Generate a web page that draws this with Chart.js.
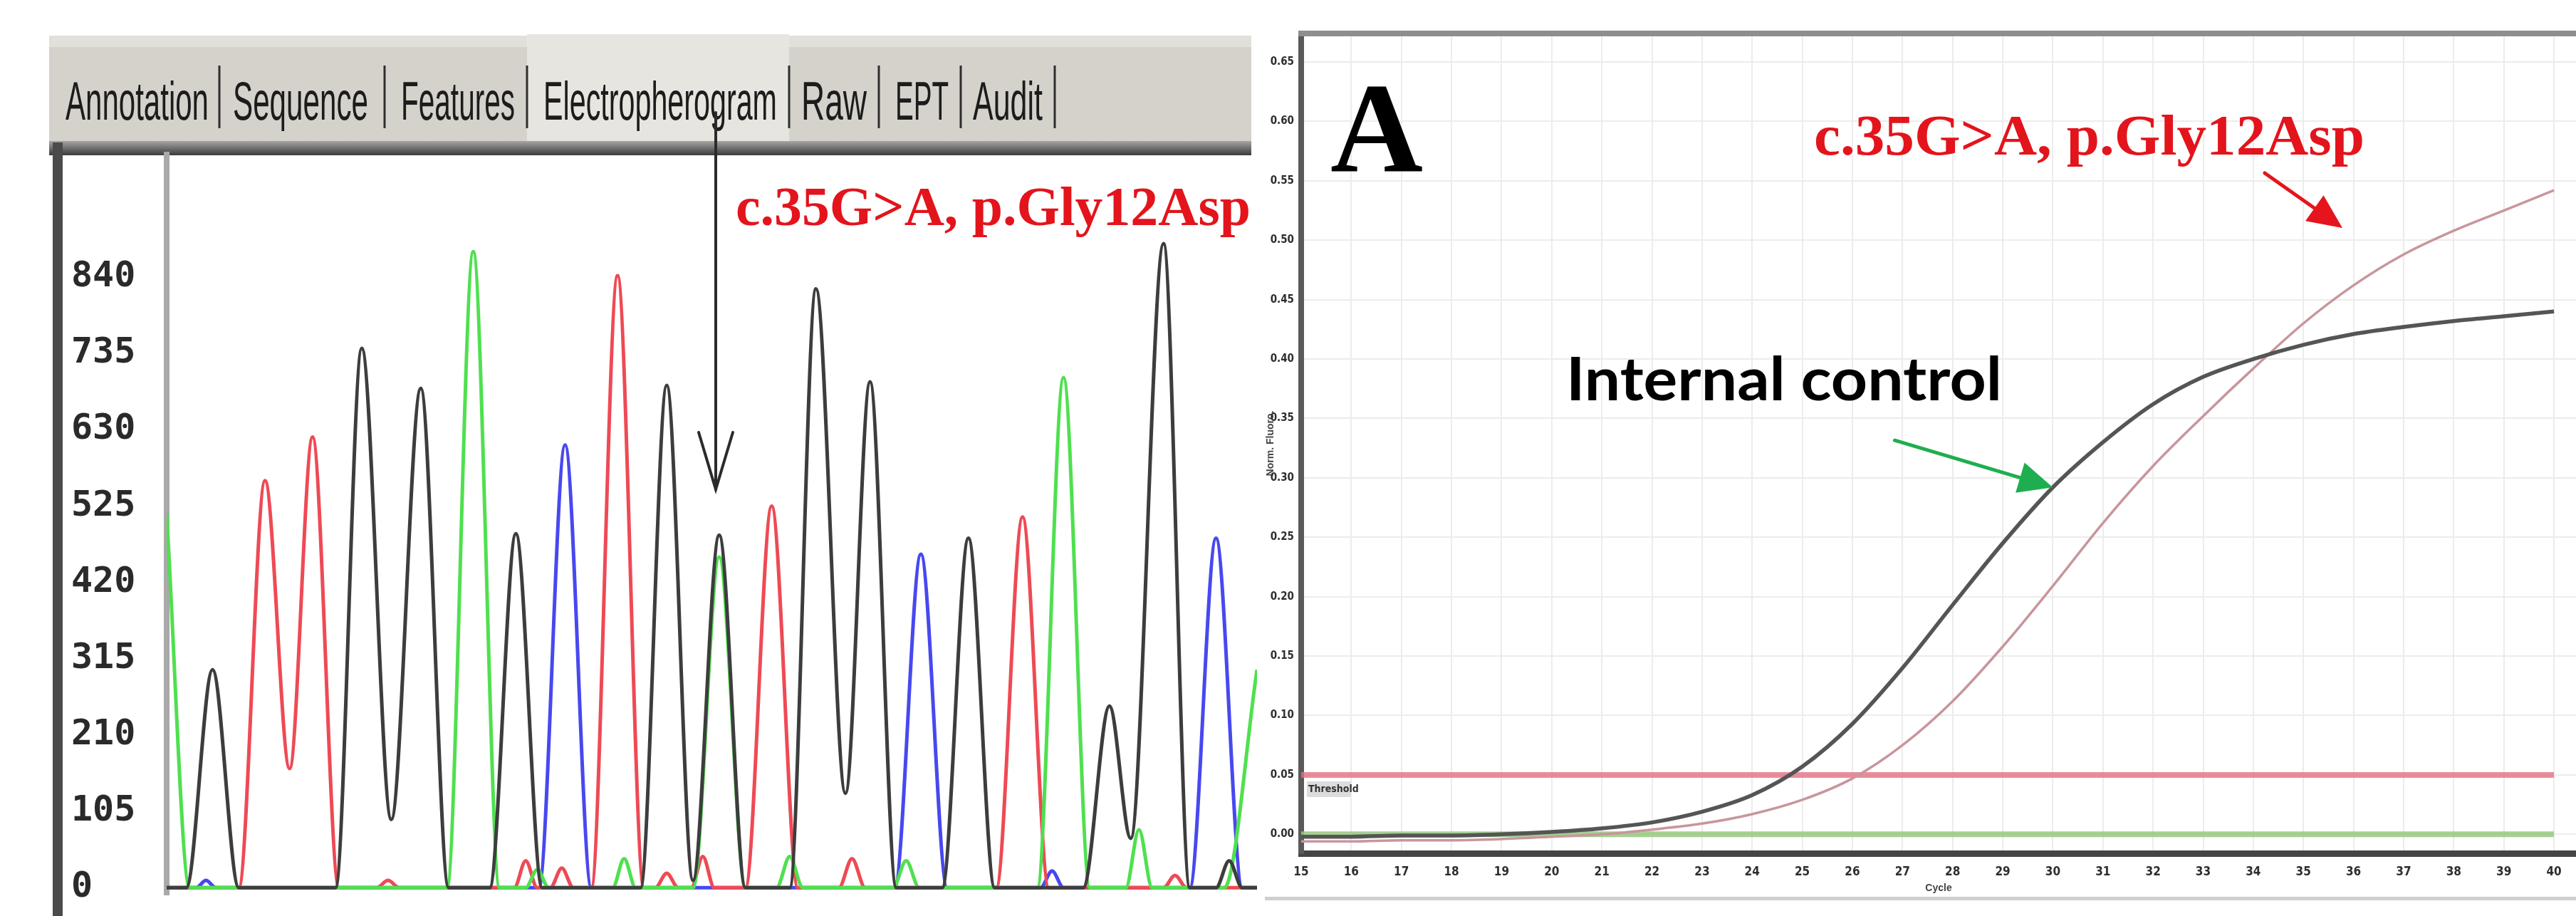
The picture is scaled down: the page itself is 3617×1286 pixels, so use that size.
<!DOCTYPE html>
<html>
<head>
<meta charset="utf-8">
<script src="https://cdn.jsdelivr.net/npm/chart.js@4.4.1/dist/chart.umd.min.js"></script>
<style>
  html, body { margin: 0; padding: 0; background: #fff; }
  body { width: 3617px; height: 1286px; position: relative; overflow: hidden; }
  canvas { position: absolute; top: 0; }
  #trace { left: 0; }
  #amp { left: 1776px; }
</style>
</head>
<body>
<canvas id="trace" width="1776" height="1286"></canvas>
<canvas id="amp" width="1841" height="1286"></canvas>
<script>
'use strict';

// **** Electropherogram (scan position / signal) ****

let signalTicks = [0, 105, 210, 315, 420, 525, 630, 735, 840];

let blackScan = [100, 112, 128, 144, 203, 219, 237, 255, 272, 297, 313, 329, 389, 405, 421, 437, 453, 480, 496, 514, 529, 545, 573, 589, 605, 659, 675, 688, 708, 724, 740, 748, 756, 765];
let blackSignal = [0, 0, 300, 0, 0, 742, 94, 687, 0, 0, 487, 0, 0, 691, 10, 485, 0, 0, 824, 130, 696, 0, 0, 481, 0, 0, 250, 68, 886, 0, 0, 37, 0, 0];

let redScan = [100, 144, 160, 175, 189, 205, 228, 235, 242, 312, 319, 326, 334, 341, 348, 359, 375, 391, 398, 405, 412, 420, 427, 434, 453, 469, 485, 510, 518, 526, 606, 622, 638, 708, 715, 722, 765];
let redSignal = [0, 0, 560, 164, 620, 0, 0, 10, 0, 0, 37, 0, 0, 27, 0, 0, 842, 0, 0, 20, 0, 0, 43, 0, 0, 525, 0, 0, 40, 0, 0, 510, 0, 0, 17, 0, 0];

let greenScan = [100, 114, 271, 287, 303, 319, 326, 333, 372, 379, 386, 421, 437, 453, 472, 480, 488, 543, 551, 559, 631, 647, 663, 685, 693, 701, 745, 765];
let greenSignal = [514, 0, 0, 875, 0, 0, 25, 0, 0, 40, 0, 0, 455, 0, 0, 43, 0, 0, 37, 0, 0, 702, 0, 0, 80, 0, 0, 300];

let blueScan = [100, 118, 124, 130, 327, 343, 359, 544, 560, 576, 633, 640, 647, 724, 740, 756, 765];
let blueSignal = [0, 0, 10, 0, 0, 609, 0, 0, 459, 0, 0, 23, 0, 0, 481, 0, 0];

let tabNames = ['Annotation', 'Sequence', 'Features', 'Electropherogram', 'Raw', 'EPT', 'Audit'];
let mutationLabel = 'c.35G>A, p.Gly12Asp';

// **** Amplification plot (cycle / normalised fluorescence) ****

let cycles = [15, 16, 17, 18, 19, 20, 21, 22, 23, 24, 25, 26, 27, 28, 29, 30, 31, 32, 33, 34, 35, 36, 37, 38, 39, 40];
let controlFluoro = [-0.002, -0.002, -0.001, -0.001, 0.000, 0.002, 0.005, 0.010, 0.019, 0.033, 0.057, 0.093, 0.140, 0.193, 0.245, 0.292, 0.330, 0.362, 0.385, 0.400, 0.412, 0.421, 0.427, 0.432, 0.436, 0.440];
let mutantFluoro = [-0.006, -0.006, -0.005, -0.005, -0.004, -0.002, 0.000, 0.004, 0.009, 0.017, 0.029, 0.047, 0.075, 0.112, 0.158, 0.209, 0.262, 0.310, 0.352, 0.392, 0.430, 0.462, 0.488, 0.508, 0.525, 0.542];
let fluoroTicks = [0, 0.05, 0.10, 0.15, 0.20, 0.25, 0.30, 0.35, 0.40, 0.45, 0.50, 0.55, 0.60, 0.65];
let thresholdLevel = 0.05;
let baselineLevel = 0;


// **** Helpers ****

function toPoints(xs, ys){
  return xs.map((x, i) => ({x: x, y: ys[i]}));
}

function fitText(ctx, text, x, y, width, font, color){
  ctx.save();
  ctx.font = font;
  ctx.fillStyle = color;
  ctx.textBaseline = 'alphabetic';
  ctx.textAlign = 'left';
  let w = ctx.measureText(text).width;
  ctx.translate(x, y);
  ctx.scale(width / w, 1);
  ctx.fillText(text, 0, 0);
  ctx.restore();
}

function drawArrow(ctx, x0, y0, x1, y1, color, width, headLen, headHalf, filled){
  let a = Math.atan2(y1 - y0, x1 - x0);
  let cos = Math.cos(a), sin = Math.sin(a);
  let bx = x1 - cos * headLen, by = y1 - sin * headLen;
  ctx.save();
  ctx.strokeStyle = color;
  ctx.fillStyle = color;
  ctx.lineWidth = width;
  ctx.lineCap = 'round';
  ctx.beginPath();
  ctx.moveTo(x0, y0);
  ctx.lineTo(filled ? bx : x1, filled ? by : y1);
  ctx.stroke();
  ctx.beginPath();
  ctx.moveTo(bx - sin * headHalf, by + cos * headHalf);
  ctx.lineTo(x1, y1);
  ctx.lineTo(bx + sin * headHalf, by - cos * headHalf);
  if(filled){
    ctx.closePath();
    ctx.fill();
  } else {
    ctx.stroke();
  }
  ctx.restore();
}

function traceSet(label, xs, ys, color){
  return {
    label: label,
    data: toPoints(xs, ys),
    borderColor: color,
    borderWidth: 5,
    pointRadius: 0,
    fill: false,
    cubicInterpolationMode: 'monotone'
  };
}


// **** Panel decorations ****

let tracePanel = {
  id: 'tracePanel',
  beforeDraw(chart){
    let ctx = chart.ctx;
    ctx.save();
    ctx.fillStyle = '#fff';
    ctx.fillRect(0, 0, chart.width, chart.height);

    // tab strip
    ctx.fillStyle = '#d5d2cb';
    ctx.fillRect(69, 50, 1688, 152);
    ctx.fillStyle = '#e2e0da';
    ctx.fillRect(69, 50, 1688, 16);
    ctx.fillStyle = '#e7e5e0';
    ctx.fillRect(740, 48, 368, 154);

    ctx.strokeStyle = '#2e2e2e';
    ctx.lineWidth = 3;
    [308, 540, 740, 1108, 1234, 1349, 1481].forEach(x => {
      ctx.beginPath();
      ctx.moveTo(x, 92);
      ctx.lineTo(x, 180);
      ctx.stroke();
    });

    let tabX = [92, 327, 563, 763, 1125, 1257, 1366];
    let tabW = [201, 190, 160, 328, 92, 75, 98];
    tabNames.forEach((name, i) => {
      fitText(ctx, name, tabX[i], 168, tabW[i], '76px "Liberation Sans", Arial, sans-serif', '#1c1c1c');
    });

    let g = ctx.createLinearGradient(0, 198, 0, 218);
    g.addColorStop(0, '#a5a5a5');
    g.addColorStop(1, '#3b3b3b');
    ctx.fillStyle = g;
    ctx.fillRect(69, 198, 1688, 20);

    ctx.fillStyle = '#4b4b4b';
    ctx.fillRect(74, 200, 14, 1086);
    ctx.restore();
  },
  afterDatasetsDraw(chart){
    let ctx = chart.ctx;
    fitText(ctx, mutationLabel, 1033, 316, 723, 'bold 78px "Liberation Serif", "Times New Roman", serif', '#e3141c');
    drawArrow(ctx, 1005, 158, 1005, 687, '#2b2b2b', 4, 80, 24, false);
  }
};

let ampPanel = {
  id: 'ampPanel',
  beforeDraw(chart){
    let ctx = chart.ctx;
    ctx.save();
    ctx.fillStyle = '#fff';
    ctx.fillRect(0, 0, chart.width, chart.height);
    ctx.fillStyle = '#cfcfcf';
    ctx.fillRect(0, 1259, chart.width, 5);
    ctx.restore();
  },
  afterDraw(chart){
    let ctx = chart.ctx;
    let ox = 1776;
    let area = chart.chartArea;
    ctx.save();
    // top frame
    ctx.fillStyle = '#8e8e8e';
    ctx.fillRect(area.left - 4, area.top - 4, area.right - area.left + 4, 8);

    // threshold tag
    ctx.fillStyle = '#dcdcdc';
    ctx.fillRect(1835 - ox, 1097, 62, 22);
    ctx.fillStyle = '#333';
    ctx.font = 'bold 14px "DejaVu Sans Condensed", "Liberation Sans Narrow", sans-serif';
    ctx.textBaseline = 'middle';
    ctx.fillText('Threshold', 1837 - ox, 1108);
    ctx.restore();

    fitText(ctx, 'A', 1868 - ox, 240, 130, 'bold 180px "Liberation Serif", "Times New Roman", serif', '#000');
    fitText(ctx, mutationLabel, 2547 - ox, 217, 773, 'bold 80px "Liberation Serif", "Times New Roman", serif', '#e3141c');
    fitText(ctx, 'Internal control', 2199 - ox, 562, 612, 'bold 84px Lato, "Open Sans", sans-serif', '#000');

    drawArrow(ctx, 3180 - ox, 243, 3289 - ox, 320, '#e6141c', 5, 48, 22, true);

    let xs = chart.scales.x, ys = chart.scales.y;
    let i30 = cycles.indexOf(30);
    let tipX = xs.getPixelForValue(cycles[i30]);
    let tipY = ys.getPixelForValue(controlFluoro[i30]);
    drawArrow(ctx, tipX - 222, tipY - 66, tipX, tipY, '#1fae4f', 5, 48, 22, true);
  }
};


// **** Charts ****

Chart.defaults.font.family = '"Liberation Sans", Arial, sans-serif';

let traceChart = new Chart(document.getElementById('trace'), {
  type: 'line',
  data: {
    datasets: [
      traceSet('G', blackScan, blackSignal, '#3d3d3d'),
      traceSet('A', greenScan, greenSignal, '#4fe04f'),
      traceSet('T', redScan, redSignal, '#ee4a55'),
      traceSet('C', blueScan, blueSignal, '#4848f0')
    ]
  },
  options: {
    responsive: false,
    animation: false,
    devicePixelRatio: 1,
    layout: {padding: {left: 100, top: 217, right: 11, bottom: 0}},
    plugins: {legend: {display: false}, tooltip: {enabled: false}},
    scales: {
      x: {type: 'linear', min: 100, max: 765, display: false},
      y: {
        min: -9.5,
        max: 1008.6,
        afterFit: s => { s.width = 134; },
        afterBuildTicks: s => { s.ticks = signalTicks.map(v => ({value: v})); },
        grid: {display: false, drawTicks: false},
        border: {display: true, color: '#a9a9a9', width: 8},
        ticks: {
          crossAlign: 'far',
          padding: 0,
          autoSkip: false,
          color: '#2a2a2a',
          font: {family: '"DejaVu Sans Mono", monospace', size: 50, weight: 'bold'}
        }
      }
    }
  },
  plugins: [tracePanel]
});

let ampChart = new Chart(document.getElementById('amp'), {
  type: 'line',
  data: {
    datasets: [
      {label: 'Internal control', data: toPoints(cycles, controlFluoro), borderColor: '#555555', borderWidth: 5.5, pointRadius: 0, cubicInterpolationMode: 'monotone'},
      {label: 'c.35G>A', data: toPoints(cycles, mutantFluoro), borderColor: '#c8969c', borderWidth: 3.5, pointRadius: 0, cubicInterpolationMode: 'monotone'},
      {label: 'Threshold', data: toPoints([cycles[0], cycles[cycles.length - 1]], [thresholdLevel, thresholdLevel]), borderColor: 'rgba(228,112,132,0.8)', borderWidth: 8, pointRadius: 0},
      {label: 'Baseline', data: toPoints([cycles[0], cycles[cycles.length - 1]], [baselineLevel, baselineLevel]), borderColor: 'rgba(150,200,128,0.85)', borderWidth: 8, pointRadius: 0}
    ]
  },
  options: {
    responsive: false,
    animation: false,
    devicePixelRatio: 1,
    layout: {padding: {left: 0, top: 47, right: 0, bottom: 26}},
    plugins: {legend: {display: false}, tooltip: {enabled: false}},
    scales: {
      x: {
        type: 'linear',
        min: 15,
        max: 40.44,
        afterFit: s => { s.height = 62; },
        afterBuildTicks: s => { s.ticks = cycles.map(v => ({value: v})); },
        grid: {color: '#ececec', lineWidth: 2, drawTicks: false},
        border: {color: '#454545', width: 9},
        ticks: {
          padding: 16,
          autoSkip: false,
          maxRotation: 0,
          color: '#2e2e2e',
          font: {family: '"DejaVu Sans Condensed", "Liberation Sans Narrow", sans-serif', size: 17, weight: 'bold'}
        },
        title: {display: true, text: 'Cycle', color: '#444', padding: {top: 0, bottom: 4}, font: {size: 14, weight: 'bold'}}
      },
      y: {
        min: -0.016,
        max: 0.674,
        afterFit: s => { s.width = 51; },
        afterBuildTicks: s => { s.ticks = fluoroTicks.map(v => ({value: v})); },
        grid: {color: '#ececec', lineWidth: 2, drawTicks: false},
        border: {color: '#5a5a5a', width: 8},
        ticks: {
          padding: 10,
          autoSkip: false,
          color: '#2e2e2e',
          callback: v => Number(v).toFixed(2),
          font: {family: '"DejaVu Sans Condensed", "Liberation Sans Narrow", sans-serif', size: 15, weight: 'bold'}
        },
        title: {display: true, text: 'Norm. Fluoro.', color: '#444', padding: 0, font: {size: 14, weight: 'bold'}}
      }
    }
  },
  plugins: [ampPanel]
});
</script>
</body>
</html>
